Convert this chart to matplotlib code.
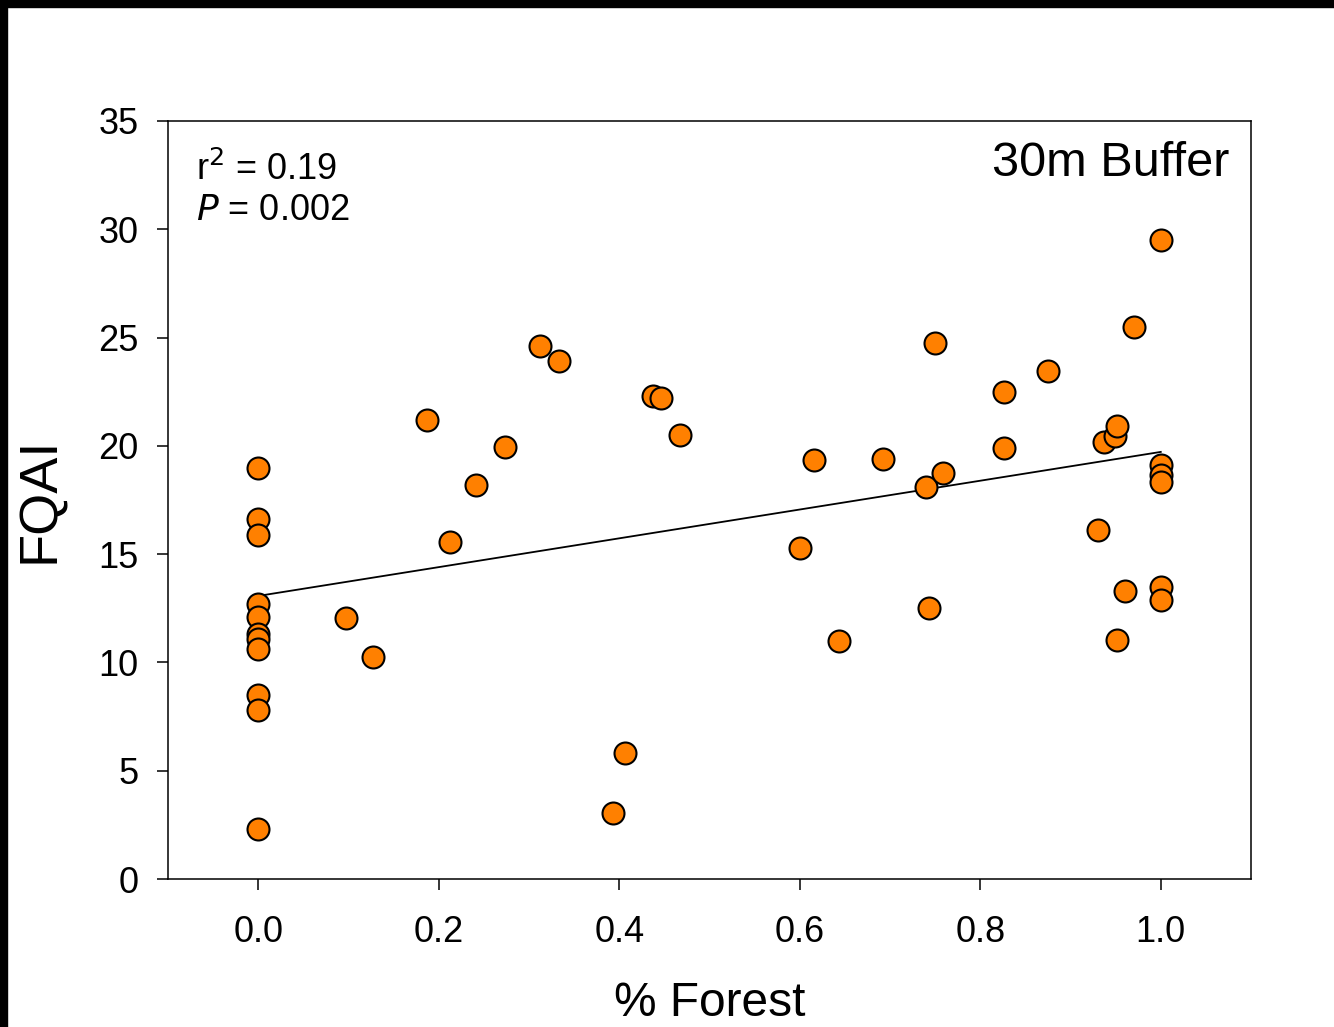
import numpy as np
import matplotlib.pyplot as plt
from matplotlib.patches import Rectangle

plt.rcParams['font.family'] = ['Liberation Sans', 'DejaVu Sans']

# data
forest = [0.0, 0.0, 0.0, 0.0, 0.0, 0.0, 0.0, 0.0, 0.0, 0.0, 0.0,
          0.097, 0.127, 0.187, 0.213, 0.241, 0.273, 0.312, 0.333,
          0.393, 0.406, 0.437, 0.446, 0.467,
          0.600, 0.616, 0.643, 0.692, 0.740, 0.743, 0.750, 0.759,
          0.826, 0.826, 0.875, 0.930, 0.937, 0.949, 0.952, 0.952,
          0.960, 0.970, 1.0, 1.0, 1.0, 1.0, 1.0, 1.0]
fqai = [19.0, 16.6, 15.9, 12.7, 12.1, 11.3, 11.1, 10.6, 8.5, 7.8, 2.3,
        12.05, 10.25, 21.2, 15.55, 18.2, 19.95, 24.6, 23.9,
        3.05, 5.8, 22.3, 22.2, 20.5,
        15.3, 19.35, 11.0, 19.4, 18.1, 12.5, 24.75, 18.75,
        22.5, 19.9, 23.45, 16.1, 20.2, 20.45, 20.9, 11.05,
        13.3, 25.5, 29.5, 19.1, 18.65, 18.35, 13.5, 12.9]

# linear fit shown in the figure
fit_intercept = 13.07
fit_slope = 6.65
fit_x = [0.0, 1.0]

xticks = [0.0, 0.2, 0.4, 0.6, 0.8, 1.0]
yticks = [0, 5, 10, 15, 20, 25, 30, 35]

fig = plt.figure(figsize=(13.34, 10.27), dpi=100)
ax = fig.add_axes([0.1259, 0.1441, 0.8119, 0.7381])

fit_y = [fit_intercept + fit_slope * v for v in fit_x]
ax.plot(fit_x, fit_y, color='black', lw=1.3, zorder=2)
ax.scatter(forest, fqai, s=250, color='#ff8000', edgecolor='black',
           linewidth=1.5, zorder=3)

ax.set_xlim(-0.1, 1.1)
ax.set_ylim(0, 35)
ax.set_xticks(xticks)
ax.set_xticklabels([f'{v:.1f}' for v in xticks])
ax.set_yticks(yticks)
ax.tick_params(direction='out', length=8, width=1.1, labelsize=26)
ax.tick_params(axis='y', pad=13)
ax.tick_params(axis='x', pad=18)
for sp in ax.spines.values():
    sp.set_linewidth(1.1)

ax.set_xlabel('% Forest', fontsize=34.5, labelpad=22)
ax.set_ylabel('FQAI', fontsize=39, labelpad=24)

ax.text(0.026, 0.922, r'r$^2$ = 0.19', transform=ax.transAxes,
        fontsize=26, ha='left', va='baseline')
ax.text(0.026, 0.869, r'$\it{P}$ = 0.002', transform=ax.transAxes,
        fontsize=26, ha='left', va='baseline')
ax.text(0.98, 0.928, '30m Buffer', transform=ax.transAxes,
        fontsize=35, ha='right', va='baseline')

# black frame on top and left edges
fig.patches.append(Rectangle((0, 1 - 7 / 1027), 1, 7 / 1027,
                             transform=fig.transFigure, color='black'))
fig.patches.append(Rectangle((0, 0), 7 / 1334, 1,
                             transform=fig.transFigure, color='black'))

fig.savefig('out.png', dpi=100)
